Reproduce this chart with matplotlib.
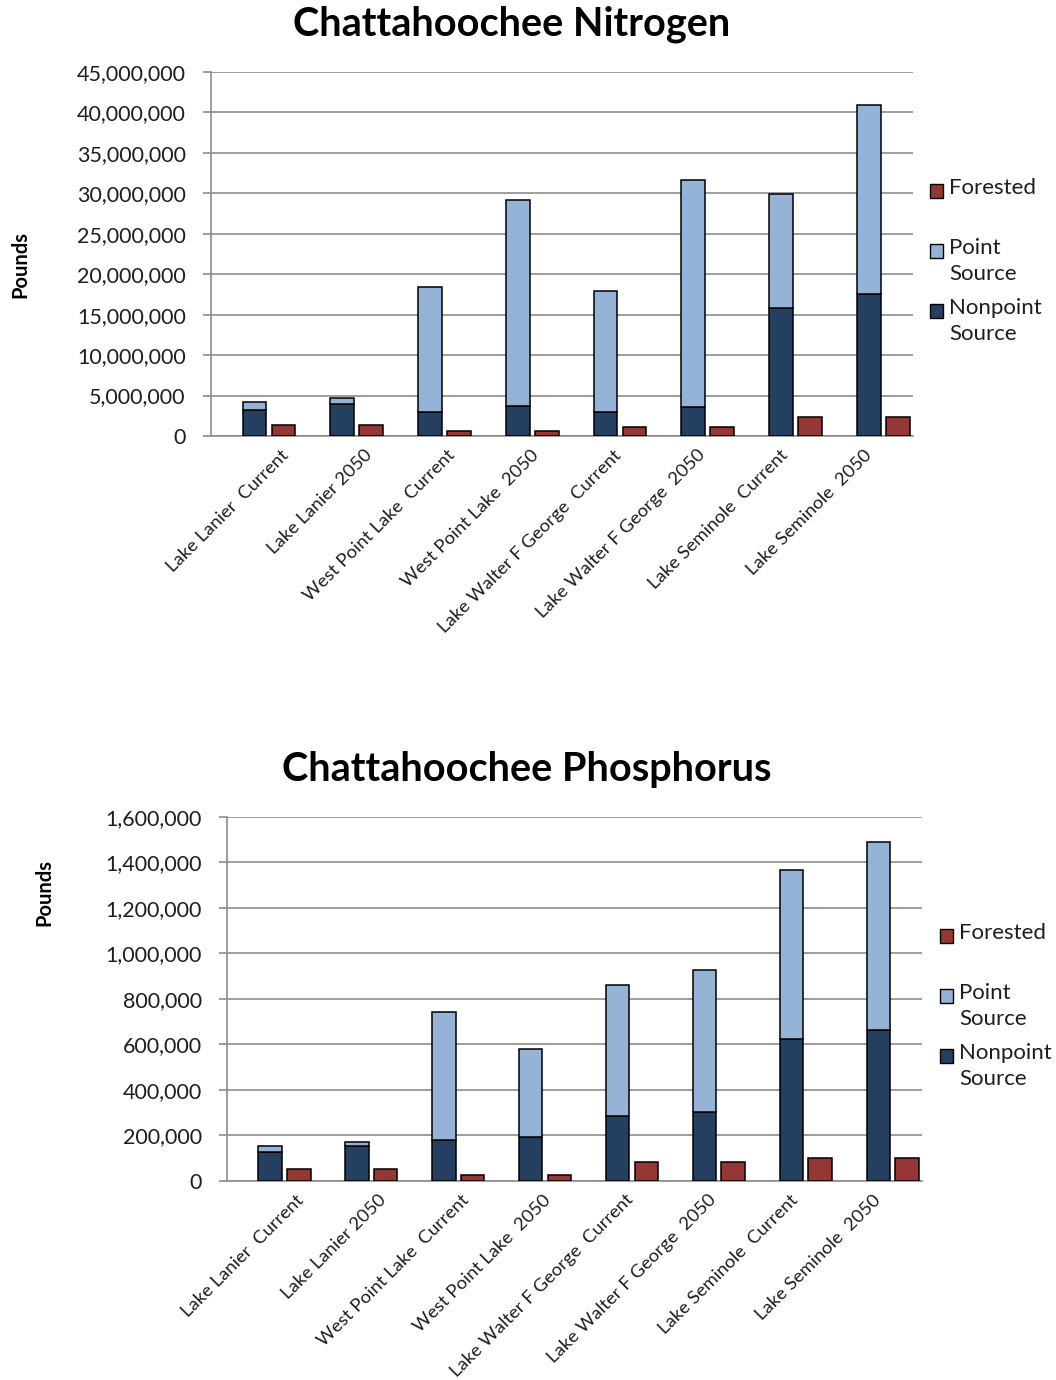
import numpy as np
import matplotlib
matplotlib.use("Agg")
import matplotlib.pyplot as plt
from matplotlib.patches import Rectangle
from matplotlib.ticker import FuncFormatter, MultipleLocator

plt.rcParams['font.family'] = ['Lato', 'DejaVu Sans']

# ---- data -------------------------------------------------------------
lakes = ["Lake Lanier  Current", "Lake Lanier 2050", "West Point Lake  Current",
         "West Point Lake  2050", "Lake Walter F George  Current",
         "Lake Walter F George  2050", "Lake Seminole  Current", "Lake Seminole  2050"]

# Nitrogen loads, pounds
n_nonpoint = [3200000, 3950000, 2920000, 3700000, 2920000, 3620000, 15800000, 17600000]
n_point = [1000000, 780000, 15440000, 25500000, 14980000, 27980000, 14100000, 23300000]
n_forested = [1300000, 1300000, 580000, 580000, 1070000, 1070000, 2390000, 2390000]

# Phosphorus loads, pounds
p_nonpoint = [127500, 152000, 180000, 190000, 284000, 302000, 624000, 661000]
p_point = [26500, 19000, 563000, 387000, 578000, 624000, 743000, 826000]
p_forested = [51000, 51000, 23000, 23000, 81000, 81000, 98000, 98000]

C_NONPOINT = "#243F60"
C_POINT = "#95B3D7"
C_FOREST = "#953735"
GRID = "#8C8C8C"
TXT = "#1e1e1e"

W, H = 1056, 1380
fig = plt.figure(figsize=(W / 100, H / 100), dpi=100)


def px_box(left, top, right, bottom):
    return [left / W, 1 - bottom / H, (right - left) / W, (bottom - top) / H]


def draw_panel(rect, title, title_xy, nonpoint, point, forested, ymax, ystep,
               ylabel_xy, legend_xy):
    ax = fig.add_axes(px_box(*rect))
    x = np.arange(len(lakes))
    bw = 0.27
    ax.bar(x, nonpoint, width=bw, color=C_NONPOINT, edgecolor="black",
           linewidth=1.1, zorder=3)
    ax.bar(x, point, width=bw, bottom=nonpoint, color=C_POINT,
           edgecolor="black", linewidth=1.1, zorder=3)
    ax.bar(x + 0.33, forested, width=bw, color=C_FOREST, edgecolor="black",
           linewidth=1.1, zorder=3)

    ax.set_xlim(-0.5, len(lakes) - 0.5)
    ax.set_ylim(0, ymax)
    ax.yaxis.set_major_locator(MultipleLocator(ystep))
    ax.yaxis.set_major_formatter(FuncFormatter(lambda v, _: f"{v:,.0f}"))
    ax.grid(axis="y", color=GRID, linewidth=1.2, zorder=0)
    ax.set_axisbelow(True)
    for s in ("top", "right"):
        ax.spines[s].set_visible(False)
    for s in ("left", "bottom"):
        ax.spines[s].set_color(GRID)
        ax.spines[s].set_linewidth(1.2)
    ax.tick_params(axis="y", length=6, width=1.2, color=GRID, pad=12,
                   labelsize=15.5, labelcolor=TXT)

    label_shift = np.linspace(0.36, 0.0, len(lakes))
    ax.set_xticks(x + label_shift)
    ax.set_xticklabels(lakes, rotation=45, ha="right", va="center",
                       rotation_mode="anchor", fontsize=13.3, color=TXT)
    ax.tick_params(axis="x", length=0, pad=12)

    fig.text(title_xy[0] / W, 1 - title_xy[1] / H, title, ha="center",
             va="center", fontsize=28.5, fontweight="bold", color="black")
    fig.text(ylabel_xy[0] / W, 1 - ylabel_xy[1] / H, "Pounds", rotation=90,
             ha="center", va="center", fontsize=14.5, fontweight="bold",
             color="black")

    # legend
    lx, ly = legend_xy
    entries = [("Forested", C_FOREST, ly), ("Point\nSource", C_POINT, ly + 60),
               ("Nonpoint\nSource", C_NONPOINT, ly + 120)]
    for text, col, yy in entries:
        fig.add_artist(Rectangle(((lx) / W, 1 - (yy + 7) / H), 13 / W, 14 / H,
                                 transform=fig.transFigure, facecolor=col,
                                 edgecolor="black", linewidth=1.0))
        fig.text((lx + 19) / W, 1 - (yy - 13) / H, text, ha="left", va="top",
                 fontsize=16, color=TXT, linespacing=1.35)
    return ax


draw_panel((210.7, 72, 912.7, 436), "Chattahoochee Nitrogen", (512, 24),
           n_nonpoint, n_point, n_forested, 45000000, 5000000,
           (20, 265), (930, 191))
draw_panel((226.7, 816.7, 921.7, 1180.7), "Chattahoochee Phosphorus", (527, 770),
           p_nonpoint, p_point, p_forested, 1600000, 200000,
           (44, 893), (940, 936))

fig.savefig("out.png", dpi=100, facecolor="white")
